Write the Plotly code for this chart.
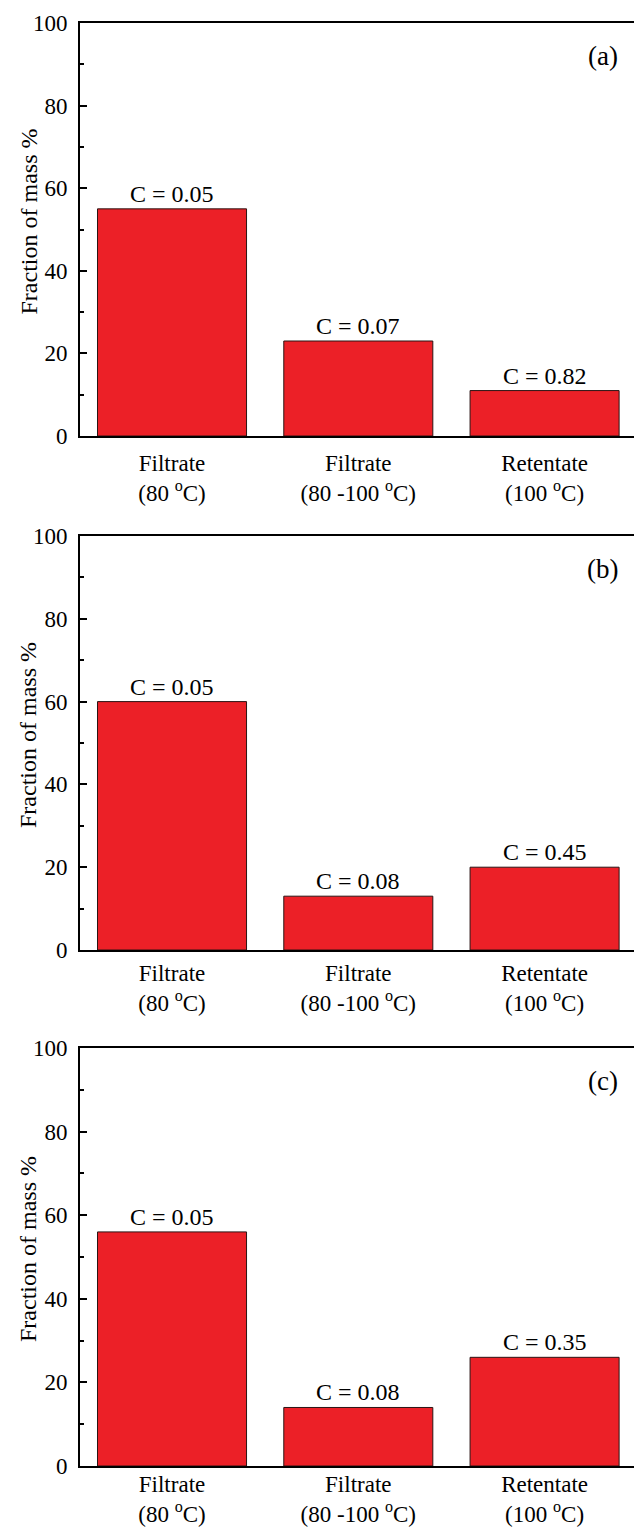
import plotly.graph_objects as go

categories = ["Filtrate<br>(80 <sup>o</sup>C)",
              "Filtrate<br>(80 -100 <sup>o</sup>C)",
              "Retentate<br>(100 <sup>o</sup>C)"]
panel_names = ["(a)", "(b)", "(c)"]
values_a = [55, 23, 11]
values_b = [60, 13, 20]
values_c = [56, 14, 26]
c_labels_a = ["C = 0.05", "C = 0.07", "C = 0.82"]
c_labels_b = ["C = 0.05", "C = 0.08", "C = 0.45"]
c_labels_c = ["C = 0.05", "C = 0.08", "C = 0.35"]
y_ticks = [0, 20, 40, 60, 80, 100]
y_title = "Fraction of mass %"

all_values = [values_a, values_b, values_c]
all_clabels = [c_labels_a, c_labels_b, c_labels_c]

W, H = 634, 1530
panels_px = [(23, 436), (536, 950), (1048, 1466)]
x_standoff = [5, 1, -4]
x_left_px = 80

FONT = "Liberation Serif"
BAR_COLOR = "#EC2027"

fig = go.Figure()
annotations = []
xpos = [0, 1, 2]

for i, (vals, clab) in enumerate(zip(all_values, all_clabels)):
    n = i + 1
    xa = "x" if n == 1 else f"x{n}"
    ya = "y" if n == 1 else f"y{n}"
    fig.add_trace(go.Bar(
        x=xpos, y=vals, xaxis=xa, yaxis=ya, width=0.8,
        marker=dict(color=BAR_COLOR, line=dict(color="#2b1414", width=1)),
        showlegend=False, hoverinfo="skip"))
    for xv, yv, t in zip(xpos, vals, clab):
        annotations.append(dict(
            x=xv, y=yv, xref=xa, yref=ya, text=t, showarrow=False,
            yanchor="bottom", yshift=0, font=dict(family=FONT, size=24, color="black")))
    top, bot = panels_px[i]
    annotations.append(dict(
        x=0.978, y=1 - (top + 33) / H, xref="paper", yref="paper",
        text=panel_names[i], showarrow=False, xanchor="right", yanchor="middle",
        font=dict(family=FONT, size=27, color="black")))
    annotations.append(dict(
        x=28 / W, y=1 - ((top + bot) / 2 - 8) / H, xref="paper", yref="paper",
        text=y_title, textangle=-90, showarrow=False, xanchor="center", yanchor="middle",
        font=dict(family=FONT, size=24, color="black")))
    dom_y = [1 - bot / H, 1 - top / H]
    xkey = "xaxis" if n == 1 else f"xaxis{n}"
    ykey = "yaxis" if n == 1 else f"yaxis{n}"
    fig.update_layout(**{
        xkey: dict(domain=[x_left_px / W, 1.0], anchor=ya, range=[-0.494, 2.48],
                   tickvals=xpos, ticktext=categories, ticks="", automargin=False,
                   showline=True, linewidth=2, linecolor="black", mirror=True,
                   showgrid=False, zeroline=False, ticklabelstandoff=x_standoff[i],
                   tickfont=dict(family=FONT, size=23, color="black")),
        ykey: dict(domain=dom_y, anchor=xa, range=[0, 100], tickvals=y_ticks,
                   automargin=False,
                   ticks="inside", ticklen=7, tickwidth=2, tickcolor="black",
                   minor=dict(ticks="inside", ticklen=4, tickwidth=2, tickcolor="black",
                              dtick=10, showgrid=False),
                   showline=True, linewidth=2, linecolor="black", mirror=True,
                   showgrid=False, zeroline=False, ticklabelstandoff=6,
                   tickfont=dict(family=FONT, size=23, color="black")),
    })

fig.update_layout(
    template="none",
    width=W, height=H, margin=dict(l=0, r=0, t=0, b=0, autoexpand=False),
    paper_bgcolor="white", plot_bgcolor="white",
    font=dict(family=FONT, size=23, color="black"),
    annotations=annotations, bargap=0.2,
)

fig.write_html("out.html", config={"displayModeBar": False},
               post_script="document.body.style.margin='0';document.body.style.overflow='hidden';")
